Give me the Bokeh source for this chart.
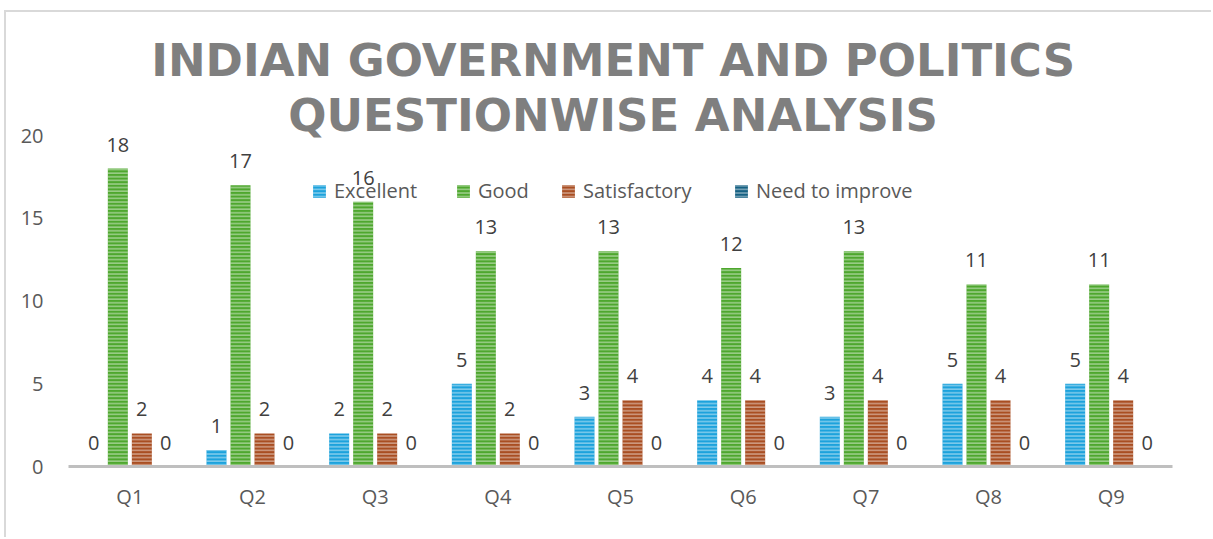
from bokeh.plotting import figure
from bokeh.models import (ColumnDataSource, FactorRange, Range1d, FixedTicker,
                          Label, LabelSet, Legend, LegendItem)
from bokeh.transform import dodge
from bokeh.embed import file_html
from bokeh.resources import INLINE
from bokeh.core.properties import value

# ---------------- data ----------------
questions = ["Q1", "Q2", "Q3", "Q4", "Q5", "Q6", "Q7", "Q8", "Q9"]
excellent = [0, 1, 2, 5, 3, 4, 3, 5, 5]
good = [18, 17, 16, 13, 13, 12, 13, 11, 11]
satisfactory = [2, 2, 2, 2, 4, 4, 4, 4, 4]
need_to_improve = [0, 0, 0, 0, 0, 0, 0, 0, 0]
series_names = ["Excellent", "Good", "Satisfactory", "Need to improve"]
y_ticks = [0, 5, 10, 15, 20]
title_lines = ["INDIAN GOVERNMENT AND POLITICS", "QUESTIONWISE ANALYSIS"]

# ---------------- style ----------------
colors = ["#1ca2dc", "#4ea72e", "#a94e22", "#156082"]
FONT = "Open Sans"
TXT = "#595959"
LBL = "#404040"
PX_PER_UNIT = 16.55
FRAME_H = 446
AXIS_Y = 466  # page y of the category axis

src = ColumnDataSource(dict(
    q=questions,
    s0=excellent, s1=good, s2=satisfactory, s3=need_to_improve,
    l0=[str(v) for v in excellent], l1=[str(v) for v in good],
    l2=[str(v) for v in satisfactory], l3=[str(v) for v in need_to_improve],
))

# canvas starts at page (6, 12) because of the chart-area border
p = figure(width=1207, height=527, output_backend="svg", toolbar_location=None,
           x_range=FactorRange(*questions, range_padding=0),
           y_range=Range1d(0, FRAME_H / PX_PER_UNIT),
           min_border_left=62, min_border_right=41, min_border_top=8,
           min_border_bottom=73)
p.styles = {"margin-left": "4px", "margin-top": "10px",
            "border-left": "2px solid #d9d9d9",
            "border-top": "2px solid #d9d9d9"}
p.outline_line_color = None
p.grid.visible = False
p.background_fill_color = "white"
p.border_fill_color = "white"

# axes
p.xaxis.axis_line_color = "#bfbfbf"
p.xaxis.axis_line_width = 3
p.xaxis.major_tick_line_color = None
p.xaxis.minor_tick_line_color = None
p.xaxis.major_label_standoff = 10
p.xaxis.major_label_text_font = FONT
p.xaxis.major_label_text_font_size = "20px"
p.xaxis.major_label_text_color = TXT

p.yaxis.ticker = FixedTicker(ticks=y_ticks)
p.yaxis.axis_line_color = None
p.yaxis.major_tick_line_color = None
p.yaxis.minor_tick_line_color = None
p.yaxis.major_label_standoff = 19
p.yaxis.major_label_text_font = FONT
p.yaxis.major_label_text_font_size = "20px"
p.yaxis.major_label_text_color = TXT

slot = 24 / 122.67
offsets = [-1.5 * slot, -0.5 * slot, 0.5 * slot, 1.5 * slot]
bar_w = 20 / 122.67

renderers = []
for i, name in enumerate(series_names):
    r = p.vbar(x=dodge("q", offsets[i], range=p.x_range), top="s%d" % i,
               width=bar_w, source=src, fill_color=colors[i], line_color=None,
               hatch_pattern="horizontal_line", hatch_color="white",
               hatch_alpha=0.45, hatch_scale=3.6, hatch_weight=1.5)
    renderers.append(r)
    ls = LabelSet(x=dodge("q", offsets[i], range=p.x_range), y="s%d" % i,
                  text="l%d" % i, source=src, y_offset=17,
                  text_align="center", text_baseline="alphabetic",
                  text_font=value(FONT), text_font_size="20px",
                  text_color=LBL)
    p.add_layout(ls)

# legend: one entry per box, placed individually
leg_x = [243, 387, 492, 665]
for i, name in enumerate(series_names):
    lg = Legend(items=[LegendItem(label=name, renderers=[renderers[i]])],
                location=(leg_x[i], 262), orientation="horizontal",
                padding=0, margin=0, spacing=0, border_line_color=None,
                background_fill_alpha=0, glyph_width=16, glyph_height=16,
                label_standoff=7, label_text_font=FONT,
                label_text_font_size="20px", label_text_color=TXT)
    p.add_layout(lg, "center")

# title (overlapping the plot area, as in the original)
title_y = [(AXIS_Y - 60) / PX_PER_UNIT, (AXIS_Y - 115) / PX_PER_UNIT]
for t, yy in zip(title_lines, title_y):
    p.add_layout(Label(x=4.44, y=yy, text=t, text_align="center",
                       text_baseline="alphabetic", text_font="DejaVu Sans",
                       text_font_style="bold", text_font_size="45px",
                       text_color="#7f7f7f"))

open("out.html", "w").write(file_html(p, INLINE))
